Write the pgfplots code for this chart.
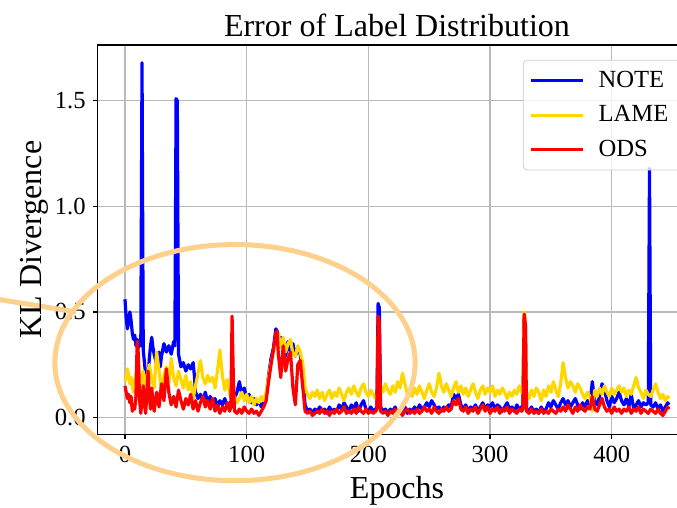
\documentclass[border=0pt]{standalone}
\usepackage{fontspec}
\setmainfont{Liberation Serif}
\usepackage{pgfplots}
\pgfplotsset{compat=1.18}

\definecolor{lame}{RGB}{255,215,0}
\definecolor{circ}{RGB}{253,208,140}

\begin{document}
\begin{tikzpicture}
\begin{axis}[
    scale only axis,
    width=299pt, height=194.5pt,
    xmin=-22.35, xmax=469.35,
    ymin=-0.079, ymax=1.764,
    clip=false,
    xtick={0,100,200,300,400},
    ytick={0,0.5,1,1.5},
    yticklabel style={/pgf/number format/.cd, fixed, fixed zerofill, precision=1},
    /pgf/number format/assume math mode=true,
    tick align=outside, tick pos=left,
    major tick length=2.5pt,
    tick style={black, line width=0.6pt},
    ticklabel style={font=\fontsize{12.3}{14}\selectfont},
    grid=major,
    grid style={gray!55, line width=0.6pt},
    axis line style={black, line width=0.6pt},
    title={Error of Label Distribution},
    title style={font=\fontsize{16}{19}\selectfont, at={(rel axis cs:0.5,1.0257)}, anchor=base, yshift=-7pt},
    xlabel={Epochs},
    xlabel style={font=\fontsize{16}{19}\selectfont, at={(rel axis cs:0.5,-0.1645)}, anchor=base},
    ylabel={KL Divergence},
    ylabel style={font=\fontsize{16}{19}\selectfont, at={(rel axis cs:-0.094,0.5)}, anchor=base},
    legend cell align=left,
    legend image code/.code={\draw[#1] (0pt,0pt) -- (26pt,0pt);},
    legend style={at={(rel axis cs:0.7105,0.962)}, anchor=north west,
        font=\fontsize{12.3}{14}\selectfont, draw=black!20, rounded corners=2pt,
        fill=white, fill opacity=0.8, text opacity=1, inner xsep=3pt, inner ysep=3.5pt,
        row sep=3.5pt, /tikz/every odd column/.append style={column sep=5pt}},
    every axis plot/.append style={line width=1.6pt, line join=round},
]
% NOTE
\addplot[blue] coordinates {
(0,.56)(1,.47)(2,.42)(3,.46)(4,.50)(5,.46)(6,.40)(7,.37)(8,.39)(9,.34)(10,.37)(11,.33)(12,.36)(13,.34)
(14,1.68)(15,.32)(16,.26)(17,.20)(18,.22)(19,.19)(20,.28)(21,.34)(22,.38)(23,.33)(24,.30)(26,.25)(28,.31)
(29,.24)(30,.29)(32,.35)(34,.31)(36,.34)(38,.30)(40,.36)(41,.34)(42,1.51)(43,1.50)(44,.30)(46,.24)(48,.26)
(50,.22)(52,.25)(54,.23)(56,.26)(57,.20)(58,.12)(60,.09)(62,.11)(64,.08)(66,.12)(68,.07)(70,.10)(72,.06)
(74,.09)(76,.05)(78,.08)(80,.06)(82,.09)(84,.05)(86,.07)(88,.05)(90,.09)(92,.12)(94,.17)(96,.11)(98,.14)
(100,.09)(102,.11)(104,.07)(106,.09)(108,.06)(110,.08)(112,.05)(114,.07)(116,.10)(118,.20)(120,.28)
(122,.33)(124,.42)(125,.41)(126,.33)(128,.38)(130,.35)(132,.29)(134,.36)(136,.31)(138,.35)(140,.29)
(142,.33)(144,.30)(146,.20)(148,.06)(150,.03)(152,.04)(154,.02)(156,.04)(158,.03)(160,.05)(162,.03)
(164,.04)(166,.02)(168,.05)(170,.03)(172,.04)(174,.03)(176,.06)(178,.04)(180,.07)(182,.05)(184,.03)
(186,.06)(188,.04)(190,.07)(192,.03)(194,.06)(196,.08)(198,.04)(200,.03)(202,.05)(204,.03)(206,.04)
(207,.05)(208,.54)(209,.52)(210,.05)(212,.03)(214,.04)(216,.02)(218,.04)(220,.03)(222,.05)(224,.02)
(226,.04)(228,.03)(230,.05)(232,.02)(234,.04)(236,.03)(238,.05)(240,.03)(242,.06)(244,.04)(246,.05)
(248,.07)(250,.05)(252,.08)(254,.06)(256,.04)(258,.05)(260,.03)(262,.05)(264,.04)(266,.06)(268,.05)
(270,.11)(272,.09)(274,.11)(276,.06)(278,.04)(280,.06)(282,.03)(284,.05)(286,.04)(288,.06)(290,.03)
(292,.05)(294,.07)(296,.04)(298,.06)(300,.05)(302,.07)(304,.04)(306,.06)(308,.05)(310,.03)(312,.05)
(314,.07)(316,.04)(318,.05)(320,.03)(322,.06)(324,.04)(326,.05)(327,.06)(328,.48)(329,.45)(330,.04)
(332,.03)(334,.05)(336,.03)(338,.04)(340,.02)(342,.05)(344,.03)(346,.04)(348,.07)(350,.05)(352,.08)
(354,.06)(356,.04)(358,.07)(360,.09)(362,.06)(364,.08)(366,.05)(368,.07)(370,.09)(372,.06)(374,.04)
(376,.07)(378,.05)(380,.08)(382,.06)(384,.17)(386,.08)(388,.06)(390,.10)(392,.16)(394,.13)(396,.08)
(398,.05)(400,.10)(402,.07)(404,.09)(406,.12)(408,.08)(410,.06)(412,.09)(414,.05)(416,.11)(418,.04)
(420,.06)(422,.08)(424,.05)(426,.07)(428,.06)(430,.07)(431,1.18)(432,.06)(434,.05)(436,.07)(438,.04)
(440,.06)(442,.03)(444,.05)(446,.07)(447,.06)
};
% LAME
\addplot[lame] coordinates {
(0,.17)(1,.19)(2,.23)(3,.20)(4,.16)(5,.19)(6,.15)(7,.12)(8,.17)(9,.21)(10,.18)(11,.24)(12,.20)(13,.15)
(14,.18)(15,.22)(16,.17)(17,.13)(18,.19)(20,.25)(22,.18)(24,.14)(26,.31)(28,.22)(30,.13)(32,.20)(34,.24)
(36,.16)(38,.28)(40,.19)(42,.15)(44,.22)(46,.18)(48,.14)(50,.20)(52,.13)(54,.17)(56,.09)(58,.15)(60,.21)
(62,.27)(64,.19)(66,.16)(68,.20)(70,.17)(72,.19)(74,.14)(76,.22)(78,.32)(80,.20)(82,.13)(84,.18)(86,.11)
(88,.08)(90,.10)(92,.07)(94,.09)(96,.12)(98,.08)(100,.11)(102,.07)(104,.10)(106,.06)(108,.09)(110,.07)
(112,.10)(114,.08)(116,.12)(118,.19)(120,.26)(122,.31)(124,.38)(126,.40)(128,.33)(130,.38)(132,.31)
(134,.35)(136,.37)(138,.30)(140,.29)(142,.34)(144,.31)(146,.26)(148,.14)(150,.11)(152,.09)(154,.12)
(156,.10)(158,.13)(160,.09)(162,.12)(164,.08)(166,.11)(168,.13)(170,.09)(172,.12)(174,.10)(176,.14)
(178,.11)(180,.08)(182,.12)(184,.14)(186,.11)(188,.15)(190,.12)(192,.10)(194,.14)(196,.16)(198,.12)
(200,.10)(202,.13)(204,.11)(206,.09)(207,.10)(208,.11)(209,.12)(210,.15)(212,.12)(214,.16)(216,.13)
(218,.11)(220,.15)(222,.12)(224,.17)(226,.14)(228,.21)(230,.16)(232,.11)(234,.13)(236,.10)(238,.14)
(240,.11)(242,.15)(244,.12)(246,.09)(248,.13)(250,.16)(252,.12)(254,.10)(256,.14)(258,.21)(260,.15)
(262,.12)(264,.16)(266,.13)(268,.10)(270,.14)(272,.17)(274,.12)(276,.15)(278,.11)(280,.14)(282,.10)
(284,.13)(286,.16)(288,.12)(290,.09)(292,.13)(294,.15)(296,.11)(298,.14)(300,.12)(302,.15)(304,.10)
(306,.13)(308,.11)(310,.14)(312,.12)(314,.09)(316,.12)(318,.10)(320,.13)(322,.11)(324,.15)(326,.12)
(327,.13)(328,.50)(329,.46)(330,.12)(332,.09)(334,.13)(336,.10)(338,.14)(340,.12)(342,.08)(344,.13)
(346,.10)(348,.15)(350,.12)(352,.17)(354,.13)(356,.10)(358,.16)(360,.26)(362,.19)(364,.14)(366,.17)
(368,.15)(370,.12)(372,.16)(374,.14)(376,.11)(378,.09)(380,.12)(382,.10)(384,.03)(386,.13)(388,.10)
(390,.14)(392,.11)(394,.15)(396,.12)(398,.10)(400,.14)(402,.11)(404,.13)(406,.15)(408,.12)(410,.14)
(412,.10)(414,.13)(416,.11)(418,.15)(420,.19)(422,.14)(424,.12)(426,.09)(428,.13)(430,.11)(432,.10)
(434,.13)(436,.16)(438,.12)(440,.09)(442,.11)(444,.08)(446,.10)(447,.09)
};
% ODS
\addplot[red] coordinates {
(0,.15)(1,.12)(2,.09)(3,.11)(4,.07)(5,.10)(6,.03)(7,.06)(8,.04)(9,.10)(10,.36)(11,.30)(12,.08)(13,.02)
(14,.09)(15,.15)(16,.06)(17,.02)(18,.12)(19,.22)(20,.10)(21,.04)(22,.14)(23,.07)(24,.03)(26,.12)(28,.05)
(30,.16)(32,.08)(34,.23)(36,.12)(38,.06)(40,.10)(42,.05)(44,.13)(46,.08)(48,.04)(50,.09)(52,.06)(54,.11)
(56,.04)(58,.08)(60,.03)(62,.07)(64,.10)(66,.05)(68,.08)(70,.04)(72,.09)(74,.03)(76,.06)(78,.02)(80,.05)
(82,.03)(84,.07)(86,.03)(87,.05)(88,.48)(89,.20)(90,.03)(92,.02)(94,.04)(96,.02)(98,.05)(100,.03)
(102,.02)(104,.04)(106,.02)(108,.03)(110,.01)(112,.03)(114,.05)(116,.08)(118,.17)(120,.25)(122,.32)
(124,.40)(125,.41)(126,.30)(128,.19)(130,.34)(132,.22)(134,.28)(136,.31)(138,.14)(140,.06)(142,.25)
(144,.27)(146,.15)(148,.03)(150,.02)(152,.03)(154,.01)(156,.02)(158,.03)(160,.02)(162,.04)(164,.02)
(166,.03)(168,.01)(170,.03)(172,.02)(174,.04)(176,.02)(178,.03)(180,.05)(182,.02)(184,.03)(186,.02)
(188,.04)(190,.02)(192,.05)(194,.03)(196,.02)(198,.04)(200,.02)(202,.03)(204,.02)(206,.03)(207,.04)
(208,.48)(209,.45)(210,.03)(212,.02)(214,.03)(216,.01)(218,.03)(220,.02)(222,.04)(224,.02)(226,.03)
(228,.01)(230,.03)(232,.04)(234,.02)(236,.03)(238,.02)(240,.04)(242,.02)(244,.03)(246,.05)(248,.03)
(250,.04)(252,.02)(254,.05)(256,.03)(258,.02)(260,.04)(262,.03)(264,.05)(266,.03)(268,.04)(270,.08)
(272,.06)(274,.09)(276,.04)(278,.03)(280,.05)(282,.02)(284,.04)(286,.03)(288,.05)(290,.02)(292,.04)
(294,.06)(296,.03)(298,.05)(300,.02)(302,.04)(304,.03)(306,.05)(308,.02)(310,.04)(312,.03)(314,.05)
(316,.02)(318,.04)(320,.03)(322,.02)(324,.04)(326,.03)(327,.04)(328,.49)(329,.44)(330,.03)(332,.02)
(334,.04)(336,.02)(338,.03)(340,.02)(342,.04)(344,.02)(346,.03)(348,.02)(350,.04)(352,.03)(354,.02)
(356,.04)(358,.03)(360,.05)(362,.03)(364,.06)(366,.04)(368,.02)(370,.05)(372,.03)(374,.06)(376,.04)
(378,.03)(380,.05)(382,.04)(384,.10)(386,.04)(388,.03)(390,.06)(392,.09)(394,.05)(396,.03)(398,.04)
(400,.02)(402,.05)(404,.03)(406,.04)(408,.02)(410,.04)(412,.03)(414,.05)(416,.02)(418,.04)(420,.03)
(422,.05)(424,.02)(426,.04)(428,.03)(430,.02)(432,.04)(434,.03)(436,.02)(438,.04)(440,.02)(442,.01)
(444,.03)(446,.05)(447,.04)
};
\legend{NOTE\hspace*{14pt}, LAME, ODS}
% highlight ellipse and pointer
\draw[circ, line width=2.5pt] (axis cs:90.4,0.26) ellipse [x radius=90pt, y radius=59pt];
\draw[circ, line width=2.5pt] (axis cs:-110,0.565) -- (axis cs:-40.3,0.50);
\coordinate (bbsw) at (axis cs:-102.7,-0.426);
\coordinate (bbne) at (axis cs:453.6,1.977);
\end{axis}
\pgfresetboundingbox
\path[use as bounding box] (bbsw) rectangle (bbne);
\end{tikzpicture}
\end{document}
